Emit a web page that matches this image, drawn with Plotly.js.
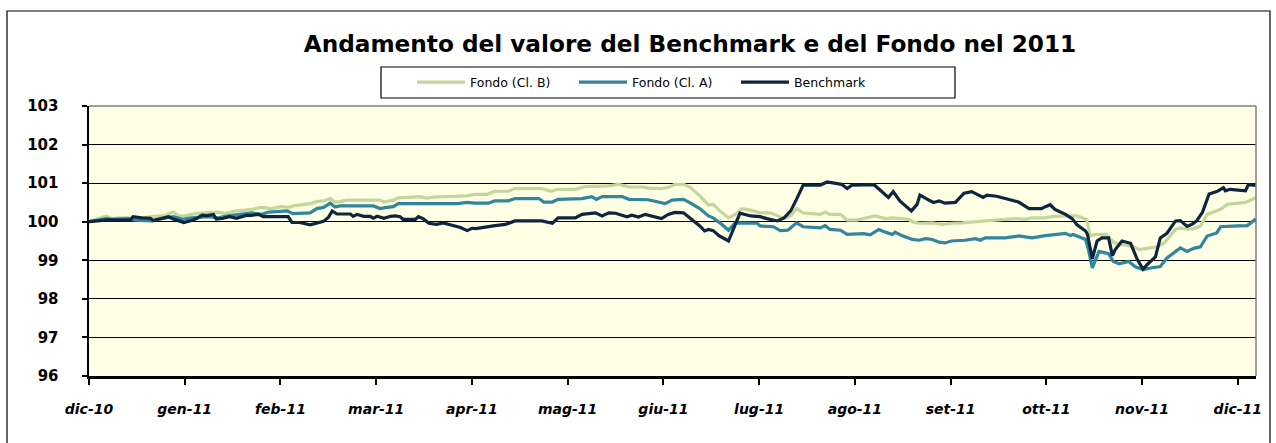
<!DOCTYPE html>
<html>
<head>
<meta charset="utf-8">
<script src="https://cdn.plot.ly/plotly-3.0.1.min.js"></script>
<style>html,body{margin:0;padding:0;background:#fff;}#chart{width:1276px;height:443px;}</style>
</head>
<body>
<div id="chart"></div>
<script>
// Month labels (category ticks, evenly spaced)
const monthLabels = ['dic-10','gen-11','feb-11','mar-11','apr-11','mag-11','giu-11','lug-11','ago-11','set-11','ott-11','nov-11','dic-11'];
const monthTicks = [0,1,2,3,4,5,6,7,8,9,10,11,12];

// Fondo (Cl. B)
const xClB = [0,0.10,0.18,0.24,0.31,0.41,0.48,0.66,0.72,0.79,0.88,0.93,1.00,1.11,1.21,1.35,1.42,1.53,1.63,1.70,1.80,1.91,
  2.00,2.10,2.13,2.31,2.38,2.45,2.52,2.57,2.62,2.69,3.04,3.08,3.18,3.23,3.46,3.53,3.60,3.95,
  4.02,4.16,4.24,4.38,4.45,4.73,4.82,4.90,5.08,5.18,5.43,5.53,5.60,5.64,5.78,5.84,5.98,
  6.05,6.12,6.21,6.28,6.38,6.47,6.52,6.59,6.68,6.75,6.82,6.91,7.01,7.12,7.19,7.26,7.33,7.39,7.46,
  7.64,7.69,7.74,7.85,7.92,8.02,8.11,8.21,8.32,8.39,8.56,8.61,8.68,8.81,8.91,9.01,9.12,9.26,9.36,
  9.57,9.68,9.78,9.85,9.99,10.06,10.20,10.32,10.42,10.46,10.51,10.63,10.70,10.76,10.88,10.97,
  11.05,11.16,11.23,11.30,11.35,11.40,11.47,11.54,11.61,11.68,11.82,11.89,12.00,12.08,12.19];
const yClB = [100.00,100.08,100.15,100.08,100.10,100.10,100.08,100.13,100.15,100.16,100.25,100.16,100.15,100.21,100.23,100.25,100.21,100.28,100.30,100.32,100.37,100.34,
  100.39,100.37,100.41,100.47,100.52,100.54,100.60,100.51,100.52,100.56,100.56,100.51,100.56,100.62,100.65,100.61,100.64,100.67,
  100.71,100.71,100.79,100.79,100.86,100.86,100.79,100.84,100.84,100.91,100.93,100.97,100.93,100.90,100.90,100.87,100.86,
  100.89,100.97,100.97,100.89,100.67,100.43,100.45,100.28,100.10,100.19,100.34,100.30,100.23,100.23,100.15,100.08,100.15,100.34,100.23,
  100.19,100.25,100.19,100.19,100.04,100.04,100.10,100.15,100.08,100.10,100.06,99.99,99.96,99.97,99.93,99.96,99.97,99.99,100.02,
  100.06,100.08,100.06,100.10,100.10,100.13,100.15,100.15,100.06,99.63,99.67,99.67,99.47,99.41,99.38,99.28,
  99.31,99.35,99.45,99.67,99.80,99.84,99.80,99.82,99.89,100.19,100.32,100.45,100.47,100.50,100.63];

// Fondo (Cl. A)
const xClA = [0,0.18,0.24,0.41,0.48,0.66,0.72,0.82,0.88,0.98,1.07,1.25,1.35,1.45,1.56,1.70,1.80,1.88,
  2.07,2.13,2.31,2.38,2.45,2.52,2.57,2.62,2.97,3.04,3.11,3.18,3.23,3.85,3.95,
  4.03,4.17,4.24,4.38,4.45,4.70,4.75,4.84,4.90,5.15,5.25,5.30,5.36,5.57,5.64,5.84,5.92,
  6.02,6.09,6.21,6.28,6.38,6.47,6.52,6.59,6.68,6.75,6.82,6.98,7.01,7.15,7.22,7.30,7.39,7.46,
  7.64,7.69,7.74,7.85,7.92,8.09,8.16,8.25,8.32,8.39,8.42,8.49,8.60,8.67,8.74,8.81,8.88,8.94,
  9.01,9.15,9.26,9.31,9.36,9.57,9.71,9.78,9.85,9.99,10.09,10.20,10.25,10.28,10.41,10.44,10.48,
  10.55,10.65,10.70,10.76,10.86,10.93,11.01,11.09,11.19,11.26,11.33,11.40,11.47,11.54,11.61,
  11.68,11.78,11.82,12.00,12.10,12.19];
const yClA = [100.00,100.08,100.06,100.08,100.04,100.02,100.06,100.10,100.13,100.06,100.10,100.13,100.10,100.15,100.19,100.23,100.19,100.25,
  100.28,100.21,100.23,100.34,100.37,100.48,100.38,100.41,100.41,100.34,100.37,100.39,100.47,100.47,100.50,
  100.48,100.48,100.54,100.54,100.60,100.60,100.51,100.51,100.58,100.60,100.65,100.58,100.65,100.65,100.58,100.57,100.52,
  100.47,100.56,100.58,100.49,100.34,100.15,100.10,99.97,99.78,99.97,99.97,99.96,99.89,99.87,99.77,99.78,99.97,99.87,
  99.84,99.90,99.80,99.78,99.67,99.69,99.66,99.80,99.73,99.67,99.73,99.64,99.54,99.52,99.56,99.54,99.47,99.45,
  99.50,99.52,99.56,99.52,99.58,99.58,99.63,99.60,99.58,99.64,99.67,99.70,99.64,99.67,99.54,99.28,98.80,
  99.23,99.17,98.97,98.91,98.97,98.83,98.76,98.80,98.84,99.06,99.19,99.32,99.23,99.31,99.35,
  99.63,99.71,99.87,99.89,99.90,100.08];

// Benchmark
const xBench = [0,0.20,0.43,0.46,0.55,0.64,0.67,0.78,0.83,0.88,0.99,1.07,1.13,1.18,1.23,1.30,1.33,1.40,1.47,1.54,1.65,1.68,1.77,1.82,
  2.08,2.12,2.20,2.31,2.38,2.45,2.50,2.54,2.59,2.73,2.76,2.80,2.87,2.94,2.97,3.01,3.08,3.15,3.20,3.25,3.28,
  3.41,3.44,3.49,3.55,3.63,3.70,3.81,3.88,3.95,4.00,4.04,4.14,4.24,4.35,4.45,4.73,4.84,4.90,5.08,5.15,
  5.29,5.36,5.43,5.50,5.57,5.62,5.67,5.74,5.81,5.88,5.98,6.05,6.12,6.21,6.28,6.38,6.43,6.47,6.52,6.58,6.68,
  6.80,6.91,7.01,7.08,7.19,7.26,7.33,7.39,7.46,7.64,7.71,7.86,7.92,7.97,8.20,8.35,8.40,8.47,8.59,8.65,8.68,
  8.75,8.82,8.88,8.94,9.05,9.14,9.22,9.34,9.38,9.48,9.59,9.71,9.82,9.95,9.99,10.04,10.09,10.20,10.27,10.32,
  10.41,10.43,10.48,10.53,10.58,10.65,10.69,10.72,10.79,10.88,10.95,11.01,11.07,11.14,11.19,11.26,11.35,
  11.40,11.47,11.52,11.57,11.63,11.70,11.78,11.85,11.87,11.92,12.08,12.11,12.19];
const yBench = [100.00,100.05,100.04,100.13,100.10,100.09,100.03,100.09,100.13,100.07,99.98,100.03,100.09,100.17,100.16,100.19,100.07,100.09,100.13,100.09,100.17,100.16,100.19,100.13,
  100.13,99.98,99.98,99.92,99.96,100.01,100.11,100.28,100.20,100.20,100.14,100.19,100.14,100.14,100.09,100.14,100.09,100.14,100.15,100.13,100.06,
  100.06,100.13,100.08,99.96,99.93,99.97,99.90,99.85,99.77,99.83,99.82,99.87,99.90,99.93,100.02,100.02,99.96,100.10,100.10,100.19,
  100.23,100.15,100.23,100.22,100.17,100.13,100.17,100.12,100.19,100.15,100.08,100.19,100.24,100.23,100.10,99.89,99.76,99.80,99.77,99.64,99.50,
  100.22,100.15,100.13,100.08,100.02,100.10,100.28,100.58,100.95,100.95,101.03,100.97,100.86,100.95,100.96,100.63,100.78,100.54,100.28,100.45,100.69,
  100.59,100.50,100.54,100.48,100.50,100.74,100.78,100.63,100.69,100.66,100.59,100.51,100.34,100.34,100.39,100.44,100.32,100.19,100.08,99.92,
  99.76,99.67,99.04,99.50,99.58,99.58,99.12,99.28,99.50,99.44,99.02,98.77,98.93,99.09,99.58,99.70,100.02,
  100.03,99.88,99.93,100.02,100.24,100.72,100.78,100.88,100.80,100.84,100.80,100.96,100.94];

const seriesNames = ['Fondo (Cl. B)','Fondo (Cl. A)','Benchmark'];
const seriesColors = ['#c3d69b','#31859c','#0f243e'];

const traces = [
  {x:xClB, y:yClB, name:seriesNames[0]},
  {x:xClA, y:yClA, name:seriesNames[1]},
  {x:xBench, y:yBench, name:seriesNames[2]}
].map((t,i)=>Object.assign(t,{type:'scatter', mode:'lines', line:{color:seriesColors[i], width:3.2}, hoverinfo:'skip'}));

// pixel -> paper helpers for decorative frames
const PL=89, PR=1256, PT=106, PB=376;
const px = v => (v-PL)/(PR-PL);
const py = v => (PB-v)/(PB-PT);

const layout = {
  width:1276, height:443,
  margin:{l:PL, r:1276-PR, t:PT, b:443-PB, pad:0},
  paper_bgcolor:'#ffffff',
  plot_bgcolor:'#ffffe6',
  font:{family:'DejaVu Sans, Verdana, sans-serif', color:'#000'},
  title:{
    text:'Andamento del valore del Benchmark e del Fondo nel 2011',
    font:{family:'DejaVu Sans, Verdana, sans-serif', size:23.2, weight:'bold', color:'#000'},
    xref:'container', yref:'container', x:690/1276, xanchor:'center', y:1-44/443, yanchor:'middle'
  },
  showlegend:true,
  legend:{
    orientation:'h', x:px(412), xanchor:'left', y:py(82.5), yanchor:'middle',
    bgcolor:'rgba(0,0,0,0)', borderwidth:0,
    font:{family:'DejaVu Sans, Verdana, sans-serif', size:12.5, color:'#000'},
    entrywidth:99, entrywidthmode:'pixels', itemwidth:48, tracegroupgap:0
  },
  xaxis:{
    range:[0,12.19], tickmode:'array', tickvals:monthTicks, ticktext:monthLabels,
    showgrid:false, zeroline:false, showline:true, linecolor:'#000', linewidth:3,
    ticks:'outside', ticklen:6, tickwidth:2, tickcolor:'#000',
    tickfont:{family:'DejaVu Sans, Verdana, sans-serif', size:14, weight:'bold', style:'italic', color:'#000'},
    ticklabelstandoff:12, fixedrange:true
  },
  yaxis:{
    range:[96,103], tickmode:'array', tickvals:[96,97,98,99,100,101,102,103],
    showgrid:true, gridcolor:'#000', gridwidth:1.2, zeroline:false,
    showline:true, linecolor:'#000', linewidth:2.5,
    ticks:'outside', ticklen:5, tickwidth:2, tickcolor:'#000',
    tickfont:{family:'DejaVu Sans, Verdana, sans-serif', size:15, weight:'bold', color:'#000'},
    ticklabelstandoff:20, fixedrange:true
  },
  shapes:[
    {type:'rect', xref:'paper', yref:'paper', x0:px(7), x1:px(1270), y0:py(460), y1:py(11), line:{color:'#000', width:1.2}, fillcolor:'rgba(0,0,0,0)', layer:'above'},
    {type:'rect', xref:'paper', yref:'paper', x0:px(381), x1:px(955), y0:py(98), y1:py(67), line:{color:'#000', width:1.2}, fillcolor:'#ffffff', layer:'below'},
    {type:'line', xref:'paper', yref:'paper', x0:0, x1:1, y0:1, y1:1, line:{color:'#808080', width:1.5}, layer:'above'},
    {type:'line', xref:'paper', yref:'paper', x0:1, x1:1, y0:0, y1:1, line:{color:'#808080', width:1.5}, layer:'above'}
  ]
};

Plotly.newPlot('chart', traces, layout, {displayModeBar:false, staticPlot:true});
</script>
</body>
</html>
